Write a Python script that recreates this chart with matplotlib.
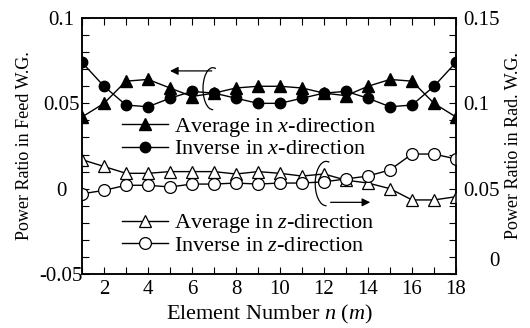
import matplotlib
matplotlib.use('Agg')
import matplotlib.pyplot as plt
from matplotlib.patches import Arc
from matplotlib.ticker import MultipleLocator, FuncFormatter

plt.rcParams['font.family'] = 'Liberation Serif'
plt.rcParams['mathtext.fontset'] = 'custom'
plt.rcParams['mathtext.rm'] = 'Liberation Serif'
plt.rcParams['mathtext.it'] = 'Liberation Serif:italic'

# element numbers
n = list(range(1, 19))

# feed waveguide (left axis)
avg_x = [0.042, 0.050, 0.063, 0.064, 0.059, 0.054, 0.056, 0.059, 0.060,
         0.060, 0.059, 0.056, 0.0545, 0.060, 0.064, 0.063, 0.050, 0.042]
inv_x = [0.074, 0.060, 0.049, 0.048, 0.053, 0.057, 0.056, 0.053, 0.050,
         0.050, 0.053, 0.056, 0.057, 0.053, 0.048, 0.049, 0.060, 0.074]

# radiating waveguide (right axis)
avg_z = [0.067, 0.063, 0.059, 0.059, 0.060, 0.060, 0.060, 0.0586, 0.060,
         0.059, 0.0574, 0.0586, 0.055, 0.0533, 0.050, 0.0434, 0.0434, 0.0453]
inv_z = [0.047, 0.049, 0.052, 0.052, 0.051, 0.0527, 0.0527, 0.0533, 0.0527,
         0.0533, 0.0533, 0.054, 0.0557, 0.0574, 0.061, 0.0703, 0.0703, 0.0674]

fig = plt.figure(figsize=(5.3, 3.28), dpi=100)
ax = fig.add_axes([0.1547, 0.1646, 0.7057, 0.7805])
ax2 = ax.twinx()

lw = 1.0
ms = 7.5
l1, = ax.plot(n, avg_x, color='k', lw=lw, marker='^', ms=ms + 0.5, mfc='k', mec='k')
l2, = ax.plot(n, inv_x, color='k', lw=lw, marker='o', ms=ms, mfc='k', mec='k')
l3, = ax2.plot(n, avg_z, color='k', lw=lw, marker='^', ms=ms + 1, mfc='white', mec='k', mew=0.9)
l4, = ax2.plot(n, inv_z, color='k', lw=lw, marker='o', ms=ms + 1, mfc='white', mec='k', mew=0.9)

ax.set_xlim(1, 18)
ax.set_ylim(-0.05, 0.1)
ax2.set_ylim(0, 0.15)

fmt = FuncFormatter(lambda v, p: '%g' % round(v, 4))
# the right-hand zero sits off the axis in the original, drawn separately below
fmt_r = FuncFormatter(lambda v, p: '' if abs(v) < 1e-9 else '%g' % round(v, 4))
ax.xaxis.set_major_locator(MultipleLocator(2))
ax.xaxis.set_minor_locator(MultipleLocator(1))
ax.yaxis.set_major_locator(MultipleLocator(0.05))
ax.yaxis.set_minor_locator(MultipleLocator(0.01))
ax2.yaxis.set_major_locator(MultipleLocator(0.05))
ax2.yaxis.set_minor_locator(MultipleLocator(0.01))
ax.yaxis.set_major_formatter(fmt)
ax2.yaxis.set_major_formatter(fmt_r)

ax.tick_params(axis='x', which='both', direction='in', top=True, length=5, width=0.8,
               labelsize=15, pad=4)
ax.tick_params(axis='y', which='both', direction='in', right=False, length=5, width=0.8,
               labelsize=15, pad=15)
ax2.tick_params(axis='y', which='both', direction='in', length=5, width=0.8,
                labelsize=15, pad=5)
for lab in ax.get_yticklabels():
    lab.set_ha('center')
ax2.text(1.104, 0.047, '0', transform=ax2.transAxes, fontsize=15,
         ha='center', va='center')

for a in (ax, ax2):
    for s in a.spines.values():
        s.set_linewidth(1.1)

ax.set_xlabel('Element Number $n$ ($m$)', fontsize=16, labelpad=3.5)
ax.set_ylabel('Power Ratio in Feed W.G.', fontsize=13, labelpad=5)
ax2.set_ylabel('Power Ratio in Rad. W.G.', fontsize=13, rotation=90, labelpad=4)

leg_kw = dict(frameon=False, fontsize=16, handlelength=2.05, handletextpad=0.3,
              labelspacing=0.0, borderpad=0, borderaxespad=0, loc='upper left')
leg1 = ax2.legend([l1, l2], ['Average in $x$-direction', 'Inverse in $x$-direction'],
                  bbox_to_anchor=(0.107, 0.618), **leg_kw)
ax2.add_artist(leg1)
ax2.legend([l3, l4], ['Average in $z$-direction', 'Inverse in $z$-direction'],
           bbox_to_anchor=(0.107, 0.241), **leg_kw)

# rotation symbols with arrows
ax.add_patch(Arc((6.95, 0.0586), 0.9, 0.0246, theta1=5, theta2=320, color='k', lw=0.9))
ax.annotate('', xy=(5.0, 0.069), xytext=(6.9, 0.069),
            arrowprops=dict(arrowstyle='-|>', color='k', lw=0.9, mutation_scale=12,
                            shrinkA=0, shrinkB=0))
ax.add_patch(Arc((12.1, 0.003), 1.0, 0.026, theta1=5, theta2=320, color='k', lw=0.9))
ax.annotate('', xy=(14.1, -0.008), xytext=(12.3, -0.008),
            arrowprops=dict(arrowstyle='-|>', color='k', lw=0.9, mutation_scale=12,
                            shrinkA=0, shrinkB=0))

fig.savefig('out.png', dpi=100)
